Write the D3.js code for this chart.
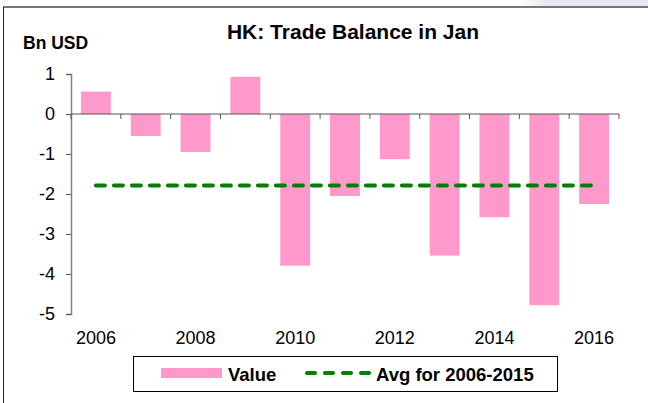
<!DOCTYPE html>
<html>
<head>
<meta charset="utf-8">
<script src="https://cdn.jsdelivr.net/npm/d3@7"></script>
<style>
  body { margin: 0; background: #fff; }
  svg { display: block; font-family: Arial, "Liberation Sans", sans-serif; }
</style>
</head>
<body>
<div id="chart"></div>
<script>
const years = ["2006","2007","2008","2009","2010","2011","2012","2013","2014","2015","2016"];
const values = [0.56, -0.55, -0.95, 0.93, -3.79, -2.05, -1.13, -3.54, -2.58, -4.78, -2.25];
const avgValues = [-1.79, -1.79, -1.79, -1.79, -1.79, -1.79, -1.79, -1.79, -1.79, -1.79, -1.79];
const yTicks = [1, 0, -1, -2, -3, -4, -5];
const xLabels = ["2006","2008","2010","2012","2014","2016"];

const width = 648, height = 403;
const svg = d3.select("#chart").append("svg").attr("width", width).attr("height", height);

function txt(parent, x, y, s, size, bold, anchor) {
  return parent.append("text")
    .attr("x", x).attr("y", y)
    .attr("text-anchor", anchor || "start")
    .attr("font-size", size)
    .attr("font-weight", bold ? "bold" : "normal")
    .attr("fill", "#000")
    .text(s);
}

// top-right grey-blue strip + frame
const grad = svg.append("defs").append("linearGradient").attr("id", "fade");
grad.append("stop").attr("offset", "0%").attr("stop-color", "#fff");
grad.append("stop").attr("offset", "100%").attr("stop-color", "#e4e7f1");
svg.append("rect").attr("x", 520).attr("y", 0).attr("width", 30).attr("height", 7).attr("fill", "url(#fade)");
svg.append("rect").attr("x", 549).attr("y", 0).attr("width", 99).attr("height", 7).attr("fill", "#e6e8f2");
svg.append("line").attr("x1", 3).attr("x2", 648).attr("y1", 7).attr("y2", 7).attr("stroke", "#777").attr("stroke-width", 2);
svg.append("line").attr("x1", 3.5).attr("x2", 3.5).attr("y1", 7).attr("y2", height).attr("stroke", "#222").attr("stroke-width", 1);

const x = d3.scaleBand().domain(years).range([71, 619]).paddingInner(0.4).paddingOuter(0.2);
const xb = d3.scaleBand().domain(years).range([71, 619]);
const y = d3.scaleLinear().domain([-5, 1]).range([314, 74]);

// title
txt(svg, 353, 39, "HK: Trade Balance in Jan", 21, true, "middle");
txt(svg, 23, 49, "Bn USD", 17.5, true);

// bars
svg.append("g").selectAll("rect").data(values).join("rect")
  .attr("x", (d, i) => x(years[i]))
  .attr("width", x.bandwidth())
  .attr("y", d => y(Math.max(0, d)))
  .attr("height", d => Math.abs(y(d) - y(0)))
  .attr("fill", "#ff99cc");

// y axis
const yAxis = svg.append("g").attr("transform", "translate(71,0)")
  .call(d3.axisLeft(y).tickValues(yTicks).tickSize(5).tickFormat(""));
yAxis.select(".domain").attr("stroke", "#808080").attr("stroke-width", 1.5);
yAxis.selectAll(".tick line").attr("stroke", "#555");
yTicks.forEach(t => txt(svg, 55, y(t) + 6, String(t), 18, false, "end"));

// x axis at zero
const xg = svg.append("g");
xg.append("line").attr("x1", 71).attr("x2", 619).attr("y1", y(0)).attr("y2", y(0)).attr("stroke", "#555").attr("stroke-width", 1.2);
const bounds = years.map(d => xb(d)).concat([xb(years[years.length - 1]) + xb.bandwidth()]);
xg.selectAll(".tk").data(bounds).join("line")
  .attr("x1", d => d).attr("x2", d => d)
  .attr("y1", y(0)).attr("y2", y(0) + 5)
  .attr("stroke", "#555");
xLabels.forEach(d => txt(xg, xb(d) + xb.bandwidth() / 2, 344, d, 18, false, "middle"));

// average line
const line = d3.line().x((d, i) => xb(years[i]) + xb.bandwidth() / 2).y(d => y(d));
svg.append("path").datum(avgValues)
  .attr("d", line)
  .attr("fill", "none").attr("stroke", "#008000").attr("stroke-width", 4)
  .attr("stroke-linecap", "round")
  .attr("stroke-dasharray", "9,9");

// legend
const lg = svg.append("g");
lg.append("rect").attr("x", 133.5).attr("y", 356.5).attr("width", 424).attr("height", 35)
  .attr("fill", "#fff").attr("stroke", "#000").attr("stroke-width", 1);
lg.append("rect").attr("x", 161).attr("y", 368).attr("width", 61).attr("height", 10).attr("fill", "#ff99cc");
txt(lg, 228, 381, "Value", 18.5, true);
lg.append("line").attr("x1", 307).attr("x2", 369).attr("y1", 373).attr("y2", 373)
  .attr("stroke", "#008000").attr("stroke-width", 4).attr("stroke-linecap", "round")
  .attr("stroke-dasharray", "8,10");
txt(lg, 376, 381, "Avg for 2006-2015", 18.5, true);
</script>
</body>
</html>
